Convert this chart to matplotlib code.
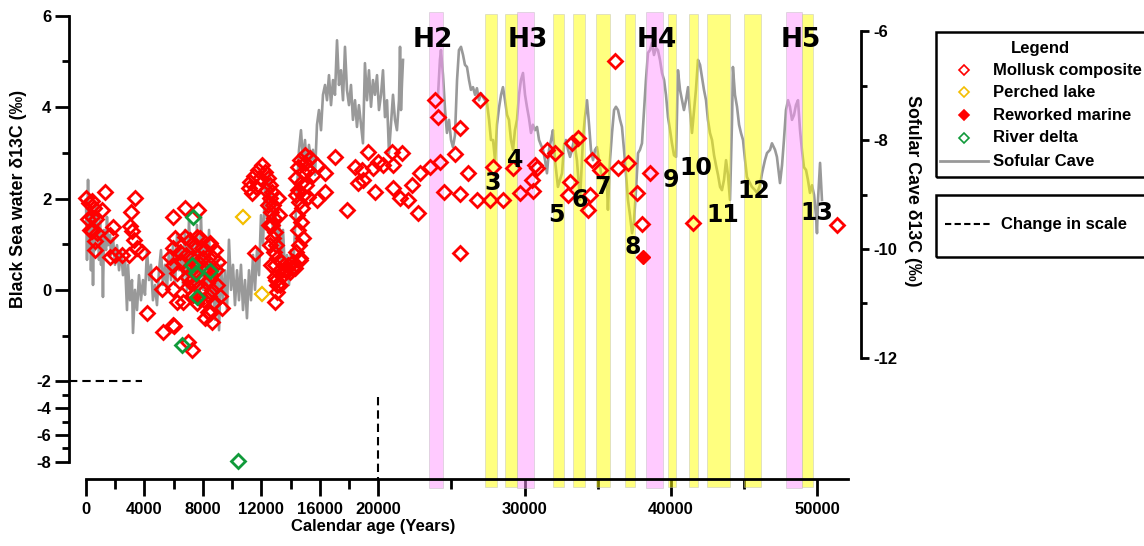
import numpy as np
import matplotlib
matplotlib.use("Agg")
import matplotlib.pyplot as plt
from matplotlib.lines import Line2D
from matplotlib.patches import Rectangle

# ---------------- data ----------------
cave_years = [0, 70, 140, 205, 275, 340, 410, 480, 550, 615, 685, 750, 820, 890, 960, 1030, 1095, 1160, 1230, 1370,
              1435, 1505, 1640, 1710, 1850, 1985, 2120, 2260, 2395, 2530, 2670, 2805, 2875, 3010, 3145, 3215, 3350,
              3490, 3625, 3760, 3900, 4035, 4170, 4310, 4445, 4580, 4720, 4855, 4995, 5130, 5265, 5405, 5540, 5675,
              5815, 5950, 6090, 6225, 6360, 6500, 6635, 6770, 6910, 7045, 7180, 7320, 7455, 7590, 7730, 7865, 8005,
              8140, 8275, 8415, 8550, 8685, 8825, 8960, 9100, 9235, 9370, 9510, 9645, 9780, 9920, 10055, 10190,
              10330, 10465, 10600, 10740, 10875, 11010, 11150, 11285, 11425, 11560, 11695, 11835, 11970, 12105,
              12245, 12380, 12515, 12655, 12790, 12930, 13065, 13200, 13340, 13475, 13610, 13750, 13885, 14020,
              14160, 14295, 14430, 14570, 14705, 14840, 14980, 15115, 15250, 15390, 15525, 15665, 15800, 15935,
              16075, 16210, 16350, 16485, 16620, 16760, 16895, 17030, 17170, 17305, 17440, 17580, 17715, 17850,
              17990, 18125, 18260, 18400, 18535, 18670, 18810, 18945, 19080, 19220, 19355, 19495, 19630, 19765,
              19905, 20040, 20180, 20315, 20450, 20590, 20725, 20860, 21000, 21135, 21270, 21410, 21480, 21545,
              21615, 21685, 22800,
              24080, 24210, 24280, 24420, 24560, 24690, 24830, 24970, 25100, 25240, 25380, 25510, 25650, 25790,
              25920, 26060, 26200, 26330, 26470, 26610, 26740, 26880, 27020, 27150, 27290, 27430, 27570, 27700,
              27840, 27980, 28110, 28250, 28390, 28520, 28660, 28800, 28930, 29070, 29210, 29340, 29480, 29620,
              29750, 29890, 30030, 30160, 30300, 30440, 30570, 30710, 30850, 30990, 31120, 31260, 31400, 31530,
              31670, 31810, 31940, 32080, 32280, 32420, 32560, 32700, 32830, 32970, 33110, 33240, 33380, 33580,
              33790, 33990, 34130, 34270, 34410, 34540, 34680, 34820, 34950, 35090, 35230, 35430, 35640, 35700,
              35840, 35980, 36120, 36250, 36390, 36530, 36660, 36800, 36940, 37070, 37210, 37350, 37480, 37620,
              37760, 37890, 38030, 38170, 38300, 38440, 38580, 38710, 38850, 38990, 39120, 39260, 39400, 39540,
              39670, 39810, 39950, 40080, 40220, 40360, 40490, 40630, 40770, 40900, 41040, 41180, 41310, 41450,
              41590, 41720, 41860, 42000, 42130, 42270, 42410, 42540, 42680, 42820, 42960, 43090, 43230, 43370,
              43500, 43640, 43780, 43910, 44050, 44190, 44250, 44390, 44530, 44670, 44800, 44940, 45080, 45210,
              45420, 45550, 45760, 45900, 46100, 46240, 46440, 46580, 46790, 46920, 47130, 47260, 47470, 47610,
              47740, 47880, 48020, 48150, 48290, 48430, 48560, 48700, 48840, 48970, 49110, 49250, 49380, 49520,
              49660, 49800, 49930, 50000, 50070, 50210, 50340]
cave_d13c = [-9.10, -10.20, -8.73, -10.02, -9.19, -10.39, -9.38, -10.66, -9.56, -10.02, -9.19, -9.83, -9.56, -10.20,
             -9.47, -10.29, -9.74, -10.88, -9.65, -10.02, -9.41, -9.93, -9.74, -10.11, -9.80, -10.29, -9.93, -10.39,
             -10.02, -10.48, -10.24, -11.12, -10.29, -10.94, -10.57, -11.54, -10.75, -11.12, -10.48, -10.94, -10.57,
             -10.84, -10.02, -10.57, -10.29, -10.94, -10.66, -11.03, -10.39, -10.02, -10.66, -10.29, -10.75, -10.02,
             -10.57, -9.93, -10.66, -9.74, -10.39, -9.93, -10.66, -9.65, -10.75, -9.47, -10.57, -9.83, -10.84, -9.56,
             -10.94, -9.38, -10.75, -9.83, -10.94, -9.65, -11.03, -10.39, -11.30, -10.20, -11.49, -10.29, -10.94,
             -10.39, -11.12, -9.83, -10.75, -10.29, -11.03, -10.39, -10.94, -10.29, -11.12, -10.57, -11.27, -10.39,
             -10.94, -10.11, -10.75, -10.02, -10.48, -9.38, -9.93, -8.83, -9.47, -8.55, -9.10, -9.65, -9.19, -10.02,
             -9.47, -10.20, -9.65, -10.39, -10.11, -10.66, -10.02, -10.48, -9.65, -8.92, -8.18, -7.82, -8.37, -8.00,
             -8.55, -8.09, -8.37, -8.18, -8.64, -7.72, -7.45, -7.82, -7.17, -6.99, -7.27, -6.81, -7.36, -6.90, -7.17,
             -6.17, -6.99, -6.72, -7.27, -6.29, -7.08, -7.36, -6.99, -7.63, -7.27, -7.76, -7.36, -7.72, -8.06, -6.59,
             -7.27, -6.72, -7.39, -6.90, -7.17, -6.81, -7.45, -7.17, -6.72, -7.58, -7.27, -8.24, -7.72, -7.17, -7.63,
             -7.82, -7.27, -6.29, -7.45, -6.95, -6.53, np.nan,
             -7.17, -6.53, -6.35, -6.81, -7.45, -7.87, -7.63, -8.00, -8.13, -7.91, -6.90, -6.35, -6.29, -6.44,
             -6.62, -6.66, -6.90, -7.08, -7.03, -7.17, -7.05, -7.27, -7.14, -7.21, -7.27, -7.32, -7.63, -8.00,
             -8.00, -8.37, -7.72, -7.41, -7.17, -7.03, -7.27, -7.54, -7.63, -8.00, -8.18, -7.82, -7.63, -7.17,
             -6.90, -6.77, -7.17, -7.39, -7.60, -7.87, -7.72, -7.82, -7.76, -8.00, -8.09, -8.18, -8.37, -8.61,
             -8.18, -8.00, -7.82, -8.37, -8.86, -8.73, -8.61, -8.09, -8.00, -8.18, -8.31, -8.18, -8.00, -8.37,
             -9.10, -8.00, -7.58, -7.27, -7.72, -8.18, -8.37, -8.18, -8.13, -8.37, -8.61, -8.73, -8.86, -9.28,
             -8.37, -7.87, -7.45, -7.39, -7.45, -7.63, -7.76, -8.18, -8.64, -9.10, -9.38, -9.71, -9.50, -8.92,
             -8.24, -8.18, -8.06, -7.45, -6.90, -6.40, -6.35, -6.22, -6.44, -6.31, -6.35, -6.53, -6.77, -6.90,
             -7.17, -7.58, -7.82, -8.06, -8.28, -8.31, -6.72, -7.08, -7.27, -7.45, -7.27, -7.03, -7.45, -7.87,
             -7.45, -7.08, -6.53, -6.62, -6.84, -7.08, -7.27, -7.63, -7.87, -8.00, -8.28, -8.46, -8.64, -8.86,
             -8.92, -8.73, -8.37, -8.64, -9.10, -7.63, -6.66, -7.17, -7.39, -7.72, -7.87, -8.00, -8.37, -8.68,
             -8.79, -8.86, -8.92, -8.97, -8.83, -8.61, -8.37, -8.24, -8.18, -8.06, -8.18, -8.31, -8.79, -8.46,
             -8.00, -7.45, -7.27, -7.39, -7.63, -7.54, -7.36, -7.27, -7.82, -8.18, -8.50, -8.55, -8.73, -8.97,
             -8.83, -9.01, -9.38, -9.71, -9.10, -8.42, -9.10]

mollusk_years = [0, 410, 1300, 3350, 170, 550, 1095, 3080, 410, 750, 1850, 3145, 650, 1960, 2910, 3490, 3830, 650,
                 3285, 4790, 4170, 5300, 390, 275, 1640, 1640, 2440, 230, 700, 3000,
                 5180, 5950, 5950, 6975, 7250, 5950, 6770, 7660, 6090, 6770, 7590, 8480, 5950, 6430, 5745, 5950,
                 6225, 6910, 6975, 6225, 6635, 7590, 8345, 8480, 6020,
                 7115, 7455, 7800, 8140, 8480, 6840, 7250, 7660, 8005, 8345, 8685, 6975, 7385, 7800, 8210, 8550,
                 8890, 7115, 7525, 7935, 8275, 8620, 8960, 7320, 7730, 8070, 8415, 8755, 8140, 8620, 6565, 8825,
                 9030, 7935, 7525, 8415, 9170, 9300,
                 13065, 12930,
                 12040, 11765, 11490, 11220, 11150, 11355, 11630, 11900, 12245, 12450, 12585, 12720, 12585, 12790,
                 12655, 12860, 12720, 12930, 12790, 13000, 12860, 13065, 12930, 13130, 13000, 13270, 12450, 12515,
                 12585, 12655, 12310, 13130, 13200, 13340, 13475, 13065, 12930, 11560,
                 14640, 14980, 14500, 14840, 14365, 14705, 14500, 14840, 14570, 14775, 14430, 14705, 14500, 14840,
                 14570, 14365, 14640, 14160, 13815, 13610, 13955, 14295, 14980, 15185, 15320, 15050, 15525, 14365,
                 14090, 14640,
                 15800, 16350, 16350, 15800, 15185, 17030, 17850, 18400, 18880, 18605, 18945, 19290, 19765, 19630,
                 19970, 20315, 20930, 21000, 21615, 21000, 21480, 22025, 22300, 22710, 22850, 23530, 23870, 24080,
                 24210, 24490, 25240, 25580, 26130, 25580, 25580, 26740, 26950, 27630, 27840, 28520, 29210, 29690,
                 30510, 30570, 30710, 30850, 31530, 32080, 33110, 32970, 33240, 33650, 34470, 34340, 35160, 34610,
                 36180, 36390, 37070, 37690, 38030, 38580, 41520, 51370]
mollusk_d13c = [2.01, 1.95, 2.14, 2.01, 1.55, 1.79, 1.75, 1.70, 1.29, 1.25, 1.38, 1.29, 0.87, 0.77, 0.77, 0.92, 0.83,
                1.07, 1.09, 0.35, -0.51, -0.92, 1.60, 1.31, 1.20, 0.73, 0.77, 1.90, 1.55, 1.40,
                0.02, 0.02, -0.77, -1.14, -1.31, 1.60, 1.79, 1.75, 1.14, 1.16, 1.16, 1.03, 0.92, 0.83, 0.72, 0.55,
                0.37, 0.28, 0.07, -0.26, -0.26, -0.28, -0.48, -0.50, -0.79,
                1.09, 0.98, 1.14, 0.87, 0.98, 0.77, 0.70, 0.61, 0.70, 0.61, 0.70, 0.48, 0.39, 0.33, 0.44, 0.33,
                0.44, 0.17, 0.11, 0.04, 0.15, 0.00, 0.11, -0.11, -0.17, -0.22, -0.13, -0.26, -0.61, -0.70, 0.61,
                0.87, 0.61, 0.92, 0.55, 0.22, -0.13, -0.39,
                0.11, 0.28,
                2.73, 2.62, 2.49, 2.36, 2.23, 2.12, 2.25, 2.45, 2.58, 2.45, 2.30, 2.14, 2.01, 1.86,
                1.71, 1.57, 1.42, 1.27, 1.14, 0.98, 0.83, 0.70, 0.55, 0.39, 0.22, 0.11, 1.86, 1.42,
                0.98, 0.55, 2.19, 2.01, 1.64, 0.61, 0.33, -0.04, -0.26, 0.81,
                2.84, 2.95, 2.69, 2.58, 2.45, 2.34, 2.19, 2.08, 1.92, 1.79, 1.64, 1.49, 1.31, 1.14,
                0.98, 0.83, 0.70, 0.61, 0.55, 0.44, 0.39, 0.48, 2.78, 2.62, 2.89, 2.30, 2.52, 2.08,
                0.48, 0.66,
                2.73, 2.56, 2.14, 1.97, 2.03, 2.91, 1.75, 2.69, 2.62, 2.34, 2.41, 3.02, 2.14, 2.67,
                2.80, 2.73, 3.02, 2.73, 3.00, 2.23, 2.01, 1.97, 2.30, 1.68, 2.56, 2.69, 4.16, 3.78,
                2.80, 2.14, 2.97, 3.54, 2.56, 2.10, 0.81, 1.97, 4.16, 1.97, 2.69, 1.97, 2.67, 2.12,
                2.41, 2.17, 2.73, 2.67, 3.06, 3.00, 2.36, 2.08, 3.21, 3.32, 2.08, 1.75, 2.62, 2.84,
                5.01, 2.67, 2.78, 2.12, 1.44, 2.56, 1.47, 1.42]

perched_years = [10740, 12040]
perched_d13c = [1.60, -0.09]

reworked_years = [38100]
reworked_d13c = [0.72]

delta_years = [7320, 7250, 7525, 8480, 7590, 6565, 10400]
delta_d13c = [1.60, 0.55, 0.37, 0.42, -0.15, -1.20, -7.9]

heinrich_bands = [(23460, 24420), (29480, 30640), (38300, 39470), (47880, 48970)]
interstadial_bands = [(27290, 28110), (28660, 29480), (31940, 32700), (33310, 34130), (34880, 35840),
                      (36870, 37550), (39810, 40360), (41250, 41860), (42480, 44050), (45010, 46170),
                      (48970, 49730)]

heinrich_labels = ["H2", "H3", "H4", "H5"]
heinrich_label_pos = [(23730, 5.47), (30230, 5.47), (39050, 5.47), (48900, 5.47)]
stadial_labels = ["3", "4", "5", "6", "7", "8", "9", "10", "11", "12", "13"]
stadial_label_pos = [(27840, 2.34), (29340, 2.84), (32150, 1.64), (33790, 1.97), (35360, 2.25), (37410, 0.94),
                     (40020, 2.41), (41740, 2.67), (43570, 1.64), (45690, 2.16), (50000, 1.68)]

x_major = [0, 4000, 8000, 12000, 16000, 20000, 30000, 40000, 50000]
x_minor = [2000, 6000, 10000, 14000, 18000, 25000, 35000, 45000]
y_major = [6, 4, 2, 0, -2, -4, -6, -8]
y_minor = [5, 3, 1, -1, -3, -5, -7]
y2_major = [-6, -8, -10, -12]
y2_minor = [-7, -9, -11]

# ---------------- figure ----------------
W, H = 1144, 546
plt.rcParams['font.family'] = ['Liberation Sans', 'DejaVu Sans']
plt.rcParams['font.weight'] = 'bold'
fig = plt.figure(figsize=(W / 100, H / 100), dpi=100)


def fx(px):
    return px / W


def fy(py):
    return 1 - py / H


R = 0.293


def fwd(y):
    y = np.asarray(y, dtype=float)
    return np.where(y >= -2, y, -2 + (y + 2) * R)


def inv(z):
    z = np.asarray(z, dtype=float)
    return np.where(z >= -2, z, -2 + (z + 2) / R)


ax_l, ax_r, ax_t, ax_b = 69.4, 860.7, 15.6, 479.3
ax2 = fig.add_axes([fx(ax_l), fy(ax_b), (ax_r - ax_l) / W, (ax_b - ax_t) / H])
ax = fig.add_axes([fx(ax_l), fy(ax_b), (ax_r - ax_l) / W, (ax_b - ax_t) / H], sharex=ax2)
ax2.set_zorder(1)
ax.set_zorder(2)
ax.patch.set_visible(False)

FS = 12

# right axis (Sofular cave)
ax2.plot(cave_years, cave_d13c, color='#999999', lw=1.9, zorder=1)
ax2.set_ylim(-14.226, -5.717)
ax2.yaxis.tick_right()
ax2.yaxis.set_label_position('right')
for s in ['top', 'left', 'bottom']:
    ax2.spines[s].set_visible(False)
ax2.spines['right'].set_bounds(-12, -6)
ax2.spines['right'].set_linewidth(2)
ax2.set_yticks(y2_major)
ax2.set_yticklabels([str(v) for v in y2_major])
ax2.set_yticks(y2_minor, minor=True)
ax2.tick_params(axis='y', which='major', length=6, width=2, labelsize=FS, pad=3)
ax2.tick_params(axis='y', which='minor', length=4, width=2)
ax2.tick_params(axis='x', which='both', bottom=False, labelbottom=False)

# left axis
ax.set_xlim(-1135, 52990)
ax.set_yscale('function', functions=(fwd, inv))
ax.set_ylim(-9.30, 6)

for a, b in heinrich_bands:
    ax.axvspan(a, b, ymin=-0.019, ymax=1.008, facecolor='#FF96FF', alpha=0.5,
               edgecolor='#BBBBBB', lw=0.6, clip_on=False, zorder=2)
for a, b in interstadial_bands:
    ax.axvspan(a, b, ymin=-0.017, ymax=1.004, facecolor='#FFFF00', alpha=0.5,
               edgecolor='#BBBBBB', lw=0.6, clip_on=False, zorder=2)

mk = dict(ls='none', marker='D', ms=7.4, mew=2.0, zorder=3, clip_on=False)
ax.plot(mollusk_years, mollusk_d13c, mfc='none', mec='#FF0000', **mk)
ax.plot(delta_years, delta_d13c, mfc='none', mec='#109A3A', **mk)
ax.plot(perched_years, perched_d13c, mfc='none', mec='#F4BE00', ls='none', marker='D', ms=7.4, mew=1.6,
        zorder=3)
ax.plot(reworked_years, reworked_d13c, mfc='#FF0000', mec='#FF0000', ls='none', marker='D', ms=7.4, zorder=3)

# change-in-scale lines
ax.plot([-1135, 3850], [-2, -2], color='black', lw=1.5, dashes=(4, 2.4), zorder=4, clip_on=False)
ax.plot([20000, 20000], [-3.13, -9.30], color='black', lw=1.5, dashes=(4, 2.4), zorder=4)

for lab, (xx, yy) in zip(heinrich_labels, heinrich_label_pos):
    ax.text(xx, yy, lab, ha='center', va='center', fontsize=19, fontweight='bold',
            family='DejaVu Sans', zorder=5)
for lab, (xx, yy) in zip(stadial_labels, stadial_label_pos):
    ax.text(xx, yy, lab, ha='center', va='center', fontsize=17, fontweight='bold',
            family='DejaVu Sans', zorder=5)

for s in ['top', 'right']:
    ax.spines[s].set_visible(False)
ax.spines['left'].set_bounds(-8, 6)
ax.spines['bottom'].set_bounds(0, 52100)
ax.spines['left'].set_linewidth(2)
ax.spines['bottom'].set_linewidth(2)
ax.set_yticks(y_major)
ax.set_yticklabels([str(v) for v in y_major])
ax.set_yticks(y_minor, minor=True)
ax.set_yticklabels([], minor=True)
ax.set_xticks(x_major)
ax.set_xticklabels([str(v) for v in x_major])
ax.set_xticks(x_minor, minor=True)
ax.tick_params(axis='y', which='major', length=10, width=2, labelsize=FS, pad=3)
ax.tick_params(axis='y', which='minor', length=5, width=2)
ax.tick_params(axis='x', which='major', length=12, width=2, labelsize=FS, pad=4)
ax.tick_params(axis='x', which='minor', length=7, width=2)

# axis titles
fig.text(fx(373), fy(527), 'Calendar age (Years)', ha='center', va='center', fontsize=FS, fontweight='bold')
fig.text(fx(19), fy(199), 'Black Sea water \u03b413C (\u2030)', ha='center', va='center', rotation=90,
         fontsize=12.8, fontweight='bold')
fig.text(fx(912), fy(191), 'Sofular Cave \u03b413C (\u2030)', ha='center', va='center', rotation=270,
         fontsize=12.8, fontweight='bold')

# legend boxes
fig.add_artist(Rectangle((fx(936), fy(177)), (1160 - 936) / W, (177 - 32) / H, transform=fig.transFigure,
                         fill=False, edgecolor='black', lw=1.8, clip_on=False))
fig.add_artist(Rectangle((fx(936), fy(257)), (1160 - 936) / W, (257 - 195) / H, transform=fig.transFigure,
                         fill=False, edgecolor='black', lw=1.8, clip_on=False))
fig.text(fx(1040), fy(48), 'Legend', ha='center', va='center', fontsize=FS, fontweight='bold')
leg_rows = [("Mollusk composite", dict(marker='D', mfc='none', mec='#FF0000')),
            ("Perched lake", dict(marker='D', mfc='none', mec='#F4BE00')),
            ("Reworked marine", dict(marker='D', mfc='#FF0000', mec='#FF0000')),
            ("River delta", dict(marker='D', mfc='none', mec='#109A3A'))]
row_y = [70, 92, 115, 138]
for (lab, st), py in zip(leg_rows, row_y):
    fig.add_artist(Line2D([fx(964)], [fy(py)], transform=fig.transFigure, ls='none', ms=5, mew=1.2, **st))
    fig.text(fx(993), fy(py), lab, ha='left', va='center', fontsize=FS, fontweight='bold')
fig.add_artist(Line2D([fx(940), fx(988)], [fy(161), fy(161)], transform=fig.transFigure, color='#999999',
                      lw=2))
fig.text(fx(993), fy(161), 'Sofular Cave', ha='left', va='center', fontsize=FS, fontweight='bold')
fig.add_artist(Line2D([fx(945), fx(991)], [fy(224), fy(224)], transform=fig.transFigure, color='black',
                      lw=1.5, dashes=(3, 1.6)))
fig.text(fx(1001), fy(224), 'Change in scale', ha='left', va='center', fontsize=FS, fontweight='bold')

fig.savefig('out.png', dpi=100)
